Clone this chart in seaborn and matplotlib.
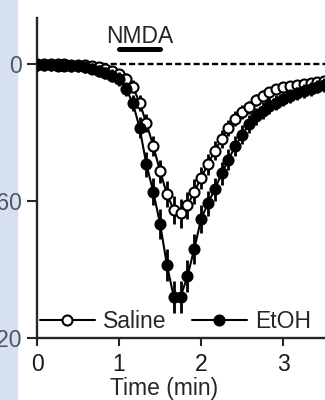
import numpy as np
import pandas as pd
import matplotlib
matplotlib.use("Agg")
import matplotlib.pyplot as plt
from matplotlib.patches import Rectangle
import seaborn as sns

# sample times in seconds (5 s bins)
time_s = [0, 5, 10, 15, 20, 25, 30, 35, 40, 45, 50, 55, 60, 65, 70, 75, 80, 85,
          90, 95, 100, 105, 110, 115, 120, 125, 130, 135, 140, 145, 150, 155,
          160, 165, 170, 175, 180, 185, 190, 195, 200, 205, 210]

saline = [0.0, -0.1, -0.2, -0.2, -0.3, -0.4, -0.5, -0.7, -1.0, -1.5, -2.3, -3.2,
          -4.5, -6.5, -10, -17, -26, -36, -47, -57, -64, -65.5, -62, -56, -50,
          -44, -38, -33, -28, -24, -21, -19, -16, -14, -12.5, -11, -10.3, -9.6,
          -9.2, -8.8, -8.4, -8.0, -7.6]
saline_sem = [1.0, 1.0, 1.0, 1.0, 1.0, 1.0, 1.0, 1.1, 1.2, 1.3, 1.5, 1.7, 2.0,
              2.5, 3.0, 3.5, 4.0, 4.5, 5.0, 5.5, 6.0, 6.5, 6.0, 5.5, 5.0, 4.5,
              4.0, 3.8, 3.5, 3.2, 3.0, 2.8, 2.6, 2.5, 2.4, 2.3, 2.2, 2.1, 2.0,
              2.0, 2.0, 2.0, 2.0]

etoh = [-0.6, -0.7, -0.7, -0.8, -0.9, -1.0, -1.2, -1.6, -2.2, -3.0, -4.0, -5.2,
        -6.8, -11, -17, -28, -44, -56, -70, -88, -102, -102, -93, -81, -68,
        -61, -55, -48, -42, -36, -31, -26.5, -23, -20.5, -18.5, -17, -15.5,
        -14.2, -13, -12, -11, -10, -9.2]
etoh_sem = [2.5, 2.5, 2.5, 2.5, 2.5, 2.5, 2.5, 2.5, 2.5, 2.6, 2.7, 2.8, 3.0,
            3.2, 3.5, 4.5, 5.5, 6.0, 6.5, 7.0, 7.0, 7.0, 7.0, 6.5, 6.0, 5.5,
            5.0, 5.0, 4.5, 4.5, 4.0, 4.0, 3.8, 3.6, 3.4, 3.2, 3.0, 3.0, 3.0,
            3.0, 3.0, 3.0, 3.0]

xticks = [0, 1, 2, 3]
yticks = [0, -60, -120]
nmda_on = [1.0, 1.5]

sns.set_style("ticks")
plt.rcParams['font.family'] = ['Liberation Sans', 'DejaVu Sans']
plt.rcParams['font.size'] = 16.5

df = pd.DataFrame({"Time": np.array(time_s) / 60.0,
                   "Saline": saline, "EtOH": etoh})

fig = plt.figure(figsize=(3.25, 4), dpi=100)
# light strip on the left edge (behind everything)
fig.patches.append(Rectangle((0, 0), 17 / 325, 1, transform=fig.transFigure,
                             color="#d6e0ef", zorder=-1))
ax = fig.add_axes([37 / 325, 62 / 400, 288 / 325, 320 / 400])
ax.patch.set_alpha(0)

# baseline
ax.axhline(0, color="black", lw=1.7, ls=(0, (2.6, 1.3)), zorder=1)

# Saline (open)
ax.errorbar(df["Time"], df["Saline"], yerr=saline_sem, fmt="none",
            ecolor="black", elinewidth=2.0, capsize=0, zorder=2)
sns.lineplot(data=df, x="Time", y="Saline", ax=ax, color="black", marker="o",
             markersize=7.2, markerfacecolor="white", markeredgecolor="black",
             markeredgewidth=1.5, linewidth=1.5, errorbar=None, label="Saline",
             zorder=3)

# EtOH (filled)
ax.errorbar(df["Time"], df["EtOH"], yerr=etoh_sem, fmt="none", ecolor="black",
            elinewidth=2.0, capsize=0, zorder=4)
sns.lineplot(data=df, x="Time", y="EtOH", ax=ax, color="black", marker="o",
             markersize=7.2, markerfacecolor="black", markeredgecolor="black",
             markeredgewidth=1.5, linewidth=1.5, errorbar=None, label="EtOH",
             zorder=5)

# NMDA application bar
ax.plot(nmda_on, [6.5, 6.5], color="black", lw=3.6, solid_capstyle="round",
        clip_on=False)
ax.text(np.mean(nmda_on), 9.2, "NMDA", ha="center", va="baseline",
        fontsize=16.5)

ax.set_xlim(0, 3.51)
ax.set_ylim(-120, 20)
ax.set_xticks(xticks)
ax.set_yticks(yticks)
sns.despine(ax=ax)
for s in ["left", "bottom"]:
    ax.spines[s].set_linewidth(1.7)
ax.tick_params(axis="y", length=7, width=1.5, pad=3.6, labelsize=16.5,
               labelcolor="#4d5560")
ax.tick_params(axis="x", length=6, width=1.5, pad=4.5, labelsize=16.5,
               labelcolor="#1a1a1a")
ax.set_ylabel("")
ax.set_xlabel("Time (min)", fontsize=16.5)
ax.xaxis.set_label_coords(0.44, -0.122)

handles, labels = ax.get_legend_handles_labels()
ax.legend(handles, labels,
          loc="center left", bbox_to_anchor=(0.01, 0.05), ncol=2,
          frameon=False, fontsize=16.5, handlelength=2.4, handletextpad=0.35,
          columnspacing=1.1, borderaxespad=0, borderpad=0)

fig.savefig("out.png", dpi=100)
